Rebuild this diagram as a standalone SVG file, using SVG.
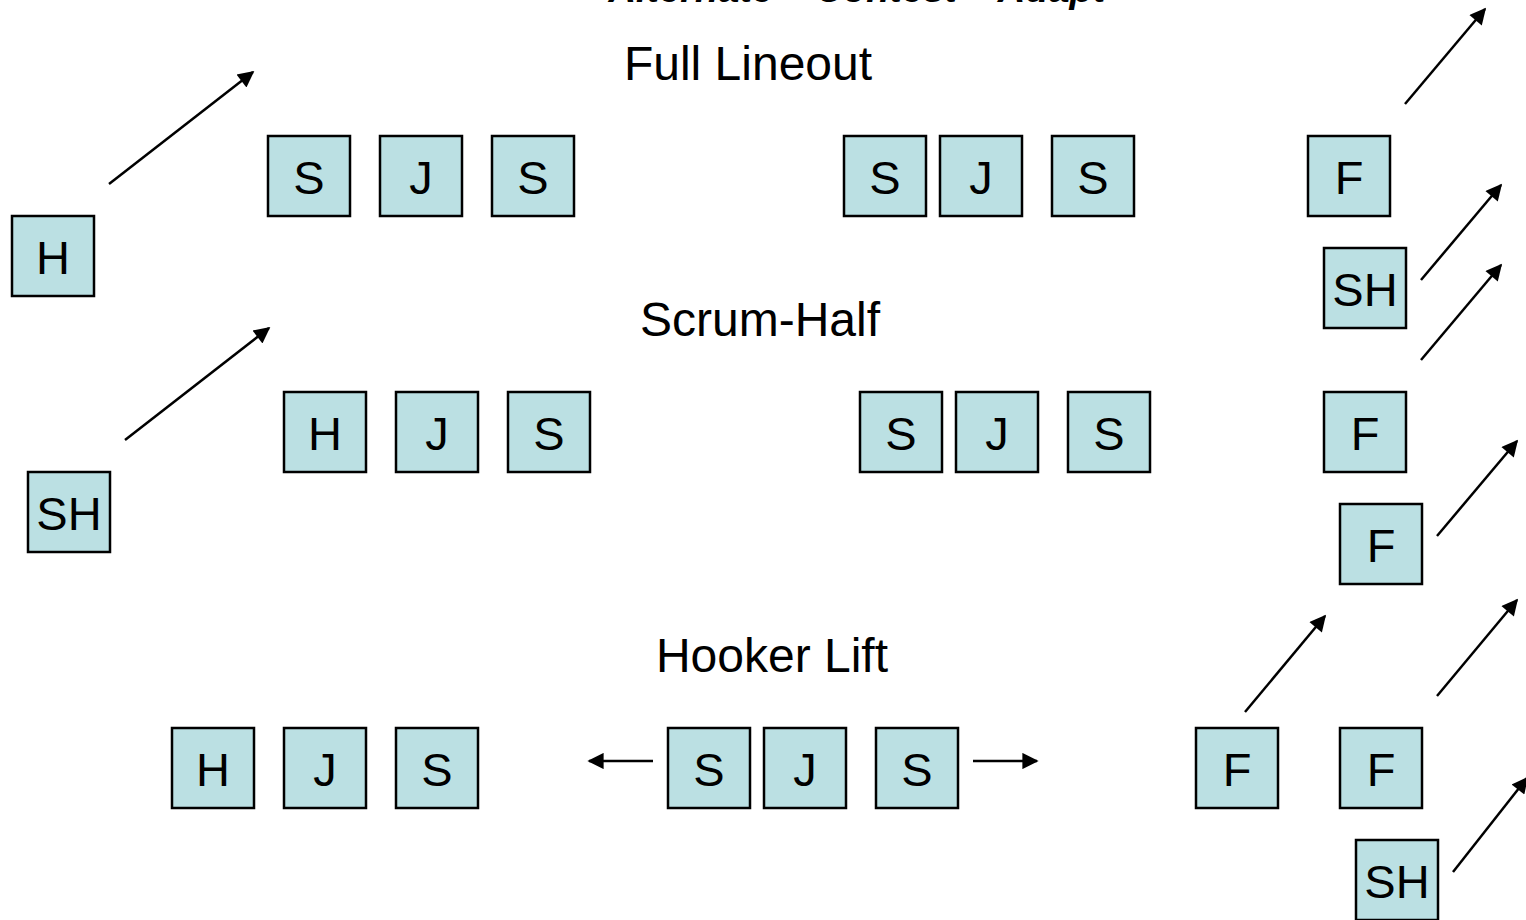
<svg xmlns="http://www.w3.org/2000/svg" width="1526" height="920" viewBox="0 0 1526 920">
<style>
.box rect{fill:#BBE0E3;stroke:#000;stroke-width:2.5}
.box text{font-family:"Liberation Sans",Arial,sans-serif;font-size:47px;fill:#000;text-anchor:middle}
.lbl{font-family:"Liberation Sans",Arial,sans-serif;font-size:48px;fill:#000;text-anchor:middle}
.conn line{stroke:#000;stroke-width:2.5;marker-end:url(#ah)}
</style>
<defs>
<marker id="ah" viewBox="0 0 10 10" refX="9" refY="5" markerWidth="8.5" markerHeight="6.5" markerUnits="strokeWidth" orient="auto">
<path d="M0,0 L10,5 L0,10 z" fill="#000"/>
</marker>
</defs>
<rect width="1526" height="920" fill="#fff"/>
<text x="857" y="2" class="lbl" style="font-style:italic;font-weight:bold;font-size:38px">Alternate – Contest – Adapt</text>
<text x="748" y="80" class="lbl">Full Lineout</text>
<text x="760" y="336" class="lbl">Scrum-Half</text>
<text x="772" y="672" class="lbl">Hooker Lift</text>

<g id="r1-s1" class="box"><rect x="268" y="136" width="82" height="80"/><text x="309" y="194">S</text></g>
<g id="r1-j1" class="box"><rect x="380" y="136" width="82" height="80"/><text x="421" y="194">J</text></g>
<g id="r1-s2" class="box"><rect x="492" y="136" width="82" height="80"/><text x="533" y="194">S</text></g>
<g id="r1-s3" class="box"><rect x="844" y="136" width="82" height="80"/><text x="885" y="194">S</text></g>
<g id="r1-j2" class="box"><rect x="940" y="136" width="82" height="80"/><text x="981" y="194">J</text></g>
<g id="r1-s4" class="box"><rect x="1052" y="136" width="82" height="80"/><text x="1093" y="194">S</text></g>
<g id="r1-f" class="box"><rect x="1308" y="136" width="82" height="80"/><text x="1349" y="194">F</text></g>
<g id="r1-h" class="box"><rect x="12" y="216" width="82" height="80"/><text x="53" y="274">H</text></g>
<g id="r1-sh" class="box"><rect x="1324" y="248" width="82" height="80"/><text x="1365" y="306">SH</text></g>

<g id="r2-h" class="box"><rect x="284" y="392" width="82" height="80"/><text x="325" y="450">H</text></g>
<g id="r2-j1" class="box"><rect x="396" y="392" width="82" height="80"/><text x="437" y="450">J</text></g>
<g id="r2-s1" class="box"><rect x="508" y="392" width="82" height="80"/><text x="549" y="450">S</text></g>
<g id="r2-s2" class="box"><rect x="860" y="392" width="82" height="80"/><text x="901" y="450">S</text></g>
<g id="r2-j2" class="box"><rect x="956" y="392" width="82" height="80"/><text x="997" y="450">J</text></g>
<g id="r2-s3" class="box"><rect x="1068" y="392" width="82" height="80"/><text x="1109" y="450">S</text></g>
<g id="r2-f1" class="box"><rect x="1324" y="392" width="82" height="80"/><text x="1365" y="450">F</text></g>
<g id="r2-sh" class="box"><rect x="28" y="472" width="82" height="80"/><text x="69" y="530">SH</text></g>
<g id="r2-f2" class="box"><rect x="1340" y="504" width="82" height="80"/><text x="1381" y="562">F</text></g>

<g id="r3-h" class="box"><rect x="172" y="728" width="82" height="80"/><text x="213" y="786">H</text></g>
<g id="r3-j1" class="box"><rect x="284" y="728" width="82" height="80"/><text x="325" y="786">J</text></g>
<g id="r3-s1" class="box"><rect x="396" y="728" width="82" height="80"/><text x="437" y="786">S</text></g>
<g id="r3-s2" class="box"><rect x="668" y="728" width="82" height="80"/><text x="709" y="786">S</text></g>
<g id="r3-j2" class="box"><rect x="764" y="728" width="82" height="80"/><text x="805" y="786">J</text></g>
<g id="r3-s3" class="box"><rect x="876" y="728" width="82" height="80"/><text x="917" y="786">S</text></g>
<g id="r3-f1" class="box"><rect x="1196" y="728" width="82" height="80"/><text x="1237" y="786">F</text></g>
<g id="r3-f2" class="box"><rect x="1340" y="728" width="82" height="80"/><text x="1381" y="786">F</text></g>
<g id="r3-sh" class="box"><rect x="1356" y="840" width="82" height="80"/><text x="1397" y="898">SH</text></g>

<g id="connectors" class="conn">
<line x1="109" y1="184" x2="253" y2="72"/>
<line x1="125" y1="440" x2="269" y2="328"/>
<line x1="1405" y1="104" x2="1485" y2="9"/>
<line x1="1421" y1="280" x2="1501" y2="185"/>
<line x1="1421" y1="360" x2="1501" y2="265"/>
<line x1="1437" y1="536" x2="1517" y2="441"/>
<line x1="1245" y1="712" x2="1325" y2="616"/>
<line x1="1437" y1="696" x2="1517" y2="600"/>
<line x1="1453" y1="872" x2="1527" y2="778"/>
<line x1="653" y1="761" x2="589" y2="761"/>
<line x1="973" y1="761" x2="1037" y2="761"/>
</g>
</svg>
